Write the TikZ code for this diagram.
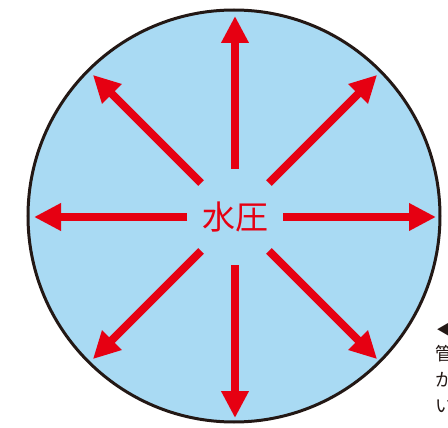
\documentclass[tikz,border=0pt]{standalone}
\usepackage{fontspec}
\usepackage{xcolor}
\usepackage{tikz}
\usetikzlibrary{positioning,arrows.meta}
\newfontfamily\jpfont{Noto Sans CJK JP}
\tikzset{
  water/.style={circle, draw=ink, fill=waterblue, line width=3pt,
                minimum size=412pt, inner sep=0pt},
  lbl/.style={font=\jpfont\fontsize{33}{33}\selectfont, text=pressred, inner sep=0pt},
  note/.style={font=\jpfont\fontsize{18}{26}\selectfont, text=ink, inner sep=0pt,
               align=left, anchor=north west},
  arr/.style={-{Triangle[length=27pt, width=26pt]}, line width=8pt, draw=pressred},
}
\definecolor{waterblue}{HTML}{A9DAF3}
\definecolor{pressred}{HTML}{E60012}
\definecolor{ink}{HTML}{231815}

\begin{document}
\begin{tikzpicture}[x=1pt, y=-1pt]
  \useasboundingbox (0,0) rectangle (448,428);
  \node[water] (pipe) at (234,216) {};
  \node[lbl] (p) at (235,217) {水圧};
  \foreach \a in {0,45,...,315} {
    \coordinate (s\a) at ([shift={(\a:48)}]p.center);
    \coordinate (t\a) at ([shift={(\a:201)}]p.center);
    \draw[arr] (s\a) -- (t\a);
  }
  \node[note] (mark) at (436,321) {◀};
  \node[note] (cap) at (435,345) {管\\か\\い};
\end{tikzpicture}
\end{document}
